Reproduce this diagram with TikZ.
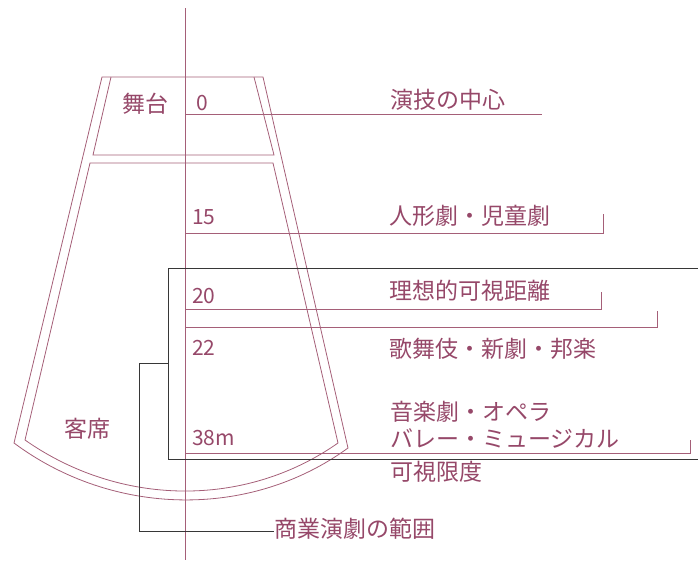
\documentclass[tikz,border=0pt]{standalone}
\usepackage{fontspec}
\newfontfamily\jp{Noto Sans CJK JP}
\definecolor{ln}{RGB}{165,95,120}
\definecolor{tx}{RGB}{150,72,105}
\definecolor{bk}{RGB}{55,55,55}
\begin{document}
\begin{tikzpicture}[x=1pt,y=-1pt,
  lbl/.style={font=\jp\fontsize{23}{26}\selectfont, text=tx, inner sep=0pt, anchor=west},
  num/.style={font=\jp\fontsize{21}{24}\selectfont, text=tx, inner sep=0pt, anchor=west},
  pk/.style={draw=ln, line width=0.8pt},
  bl/.style={draw=bk, line width=0.8pt}]
\useasboundingbox (0,0) rectangle (698,560);
% axis
\coordinate (axtop) at (185,8);
\coordinate (axbot) at (185,560);
\draw[pk] (axtop) -- (axbot);
% outer wall
\draw[pk] (102,77) -- (263,77) -- (348,448) .. controls (249,520) and (112,516) .. (14,443) -- cycle;
% stage inner
\draw[pk] (111,77) -- (93,155) -- (274,155) -- (254,77);
% auditorium inner
\draw[pk] (90,163) -- (273,163) -- (338,443) .. controls (244,509) and (119,506) .. (25,440) -- cycle;
% texts
\node[lbl, anchor=center] (butai) at (145,104) {舞台};
\node[lbl, anchor=center] (kyaku) at (87,429) {客席};
\node[num] (n0) at (196,103) {0};
\node[num] (n15) at (192,217) {15};
\node[num] (n20) at (192,296) {20};
\node[num] (n22) at (192,348) {22};
\node[num] (n38) at (192,438) {38m};
\node[lbl] (t1) at (390,100) {演技の中心};
\node[lbl] (t2) at (389,216) {人形劇・児童劇};
\node[lbl] (t3) at (389,291) {理想的可視距離};
\node[lbl] (t4) at (389,349) {歌舞伎・新劇・邦楽};
\node[lbl] (t5) at (390,412) {音楽劇・オペラ};
\node[lbl] (t6) at (390,438) {バレー・ミュージカル};
\node[lbl] (t7) at (390,472) {可視限度};
\node[lbl] (t8) at (274,529) {商業演劇の範囲};
% marker lines
\coordinate (m0) at (185,114);
\coordinate (m0e) at (542,114);
\draw[pk] (m0) -- (m0e);
\coordinate (m1) at (185,233);
\coordinate (m1e) at (603,233);
\draw[pk] (m1) -- (m1e) -- ++(0,-19);
\coordinate (m2) at (185,309);
\coordinate (m2e) at (601,309);
\draw[pk] (m2) -- (m2e) -- ++(0,-17);
\coordinate (m3) at (185,327);
\coordinate (m3e) at (657,327);
\draw[pk] (m3) -- (m3e) -- ++(0,-16);
\coordinate (m4) at (185,453);
\coordinate (m4e) at (690,453);
\draw[pk] (m4) -- (m4e) -- ++(0,-13);
% black range lines
\coordinate (b1) at (698,268);
\coordinate (b2) at (168,268);
\coordinate (b3) at (168,459);
\coordinate (b4) at (698,459);
\draw[bl] (b1) -- (b2) -- (b3) -- (b4);
\coordinate (c1) at (168,363);
\coordinate (c2) at (139,363);
\coordinate (c3) at (139,531);
\draw[bl] (c1) -- (c2) -- (c3) -- (c3 -| t8.west);
\end{tikzpicture}
\end{document}
